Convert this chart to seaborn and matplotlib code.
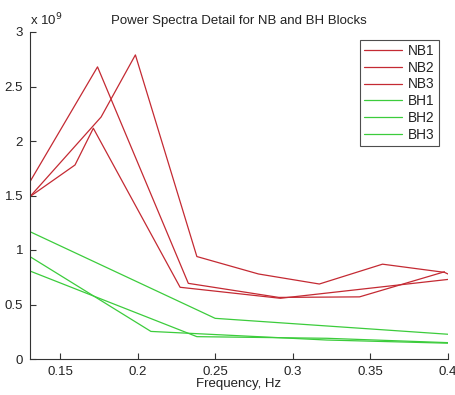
import numpy as np
import pandas as pd
import matplotlib
matplotlib.use("Agg")
import matplotlib.pyplot as plt
import seaborn as sns

sns.set_theme(style="white")
plt.rcParams['font.family'] = ['Liberation Sans', 'DejaVu Sans']

# Power spectra (units of 1e9) for each block, frequency in Hz
nb1_freq = [0.1307, 0.1742, 0.2327, 0.2910, 0.3430, 0.3977]
nb1_pow = [1.627, 2.68, 0.694, 0.565, 0.570, 0.800]

nb2_freq = [0.1307, 0.1765, 0.1986, 0.2382, 0.2779, 0.3171, 0.3578, 0.3977, 0.4000]
nb2_pow = [1.49, 2.22, 2.79, 0.94, 0.780, 0.688, 0.870, 0.795, 0.780]

nb3_freq = [0.1307, 0.1597, 0.1715, 0.2274, 0.2920, 0.4000]
nb3_pow = [1.49, 1.78, 2.117, 0.658, 0.557, 0.730]

bh1_freq = [0.1307, 0.2500, 0.4000]
bh1_pow = [1.168, 0.373, 0.227]

bh2_freq = [0.1307, 0.2086, 0.3220, 0.4000]
bh2_pow = [0.939, 0.253, 0.174, 0.145]

bh3_freq = [0.1307, 0.2382, 0.3220, 0.4000]
bh3_pow = [0.807, 0.205, 0.190, 0.150]

series_names = ["NB1", "NB2", "NB3", "BH1", "BH2", "BH3"]
freqs = [nb1_freq, nb2_freq, nb3_freq, bh1_freq, bh2_freq, bh3_freq]
powers = [nb1_pow, nb2_pow, nb3_pow, bh1_pow, bh2_pow, bh3_pow]

x_ticks = [0.15, 0.2, 0.25, 0.3, 0.35, 0.4]
x_tick_labels = ["0.15", "0.2", "0.25", "0.3", "0.35", "0.4"]
y_ticks = [0, 0.5, 1, 1.5, 2, 2.5, 3]
y_tick_labels = ["0", "0.5", "1", "1.5", "2", "2.5", "3"]

rows = []
for name, f, p in zip(series_names, freqs, powers):
    for i, (fi, pi) in enumerate(zip(f, p)):
        rows.append({"block": name, "freq": fi, "power": pi, "order": i})
df = pd.DataFrame(rows)

red = "#c42a33"
green = "#3ccc3c"
palette = {"NB1": red, "NB2": red, "NB3": red, "BH1": green, "BH2": green, "BH3": green}

fig = plt.figure(figsize=(4.55, 3.95), dpi=100)
ax = fig.add_axes([30 / 455, 36 / 395, 418 / 455, 327 / 395])

sns.lineplot(data=df, x="freq", y="power", hue="block", units="block",
             estimator=None, sort=False, palette=palette, hue_order=series_names,
             linewidth=0.9, ax=ax, legend=True)

ax.set_xlim(0.1307, 0.4)
ax.set_ylim(0, 3)
ax.set_xticks(x_ticks)
ax.set_xticklabels(x_tick_labels)
ax.set_yticks(y_ticks)
ax.set_yticklabels(y_tick_labels)
ax.tick_params(direction="in", length=4, width=0.8, colors="#333333",
               labelsize=9.5, labelcolor="#222222", bottom=True, left=True, pad=5)
for side in ["top", "right"]:
    ax.spines[side].set_visible(False)
for side in ["left", "bottom"]:
    ax.spines[side].set_color("#333333")
    ax.spines[side].set_linewidth(0.8)

ax.set_xlabel("Frequency, Hz", fontsize=9.5, color="#222222", labelpad=0)
ax.set_ylabel("")
ax.set_title("Power Spectra Detail for NB and BH Blocks", fontsize=9.5,
             color="#222222", pad=6)
ax.text(0.0, 1.012, r"x 10$^{9}$", transform=ax.transAxes, fontsize=9.5,
        color="#222222", ha="left", va="bottom")

leg = ax.legend(loc="upper right", frameon=True, fancybox=False, fontsize=9.8,
                handlelength=2.8, handletextpad=0.45, labelspacing=0.2,
                borderpad=0.3, borderaxespad=0.0, markerfirst=True,
                bbox_to_anchor=(0.978, 0.976))
leg.get_frame().set_edgecolor("#222222")
leg.get_frame().set_linewidth(0.8)
for t in leg.get_texts():
    t.set_color("#222222")

fig.savefig("out.png", dpi=100)
